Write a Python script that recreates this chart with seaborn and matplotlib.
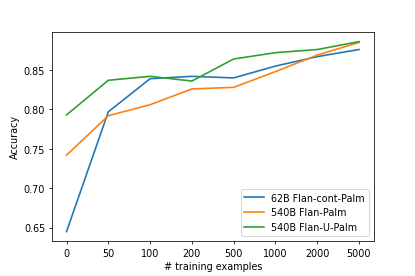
import pandas as pd
import numpy as np
import matplotlib.pyplot as plt
import seaborn as sns

# Data
train_sizes = ['0', '50', '100', '200', '500', '1000', '2000', '5000']
flan_cont_palm_62b = [0.645, 0.797, 0.839, 0.842, 0.840, 0.855, 0.867, 0.876]
flan_palm_540b = [0.742, 0.792, 0.806, 0.826, 0.828, 0.848, 0.869, 0.885]
flan_u_palm_540b = [0.793, 0.837, 0.842, 0.836, 0.864, 0.872, 0.876, 0.886]
model_names = ['62B Flan-cont-Palm', '540B Flan-Palm', '540B Flan-U-Palm']

pos = np.arange(len(train_sizes))
df = pd.DataFrame({
    'pos': np.tile(pos, 3),
    'acc': flan_cont_palm_62b + flan_palm_540b + flan_u_palm_540b,
    'model': np.repeat(model_names, len(train_sizes)),
})

fig, ax = plt.subplots(figsize=(6, 4), dpi=69.2)
fig.subplots_adjust(left=0.125, right=0.9, top=0.881, bottom=0.126)
sns.lineplot(data=df, x='pos', y='acc', hue='model', hue_order=model_names,
             palette=['#1f77b4', '#ff7f0e', '#2ca02c'], linewidth=1.7, ax=ax)
ax.set_xticks(pos)
ax.set_xticklabels(train_sizes)
ax.set_xlabel('# training examples')
ax.set_ylabel('Accuracy')
ax.legend(loc='lower right')
plt.savefig('out.png')
plt.close()
